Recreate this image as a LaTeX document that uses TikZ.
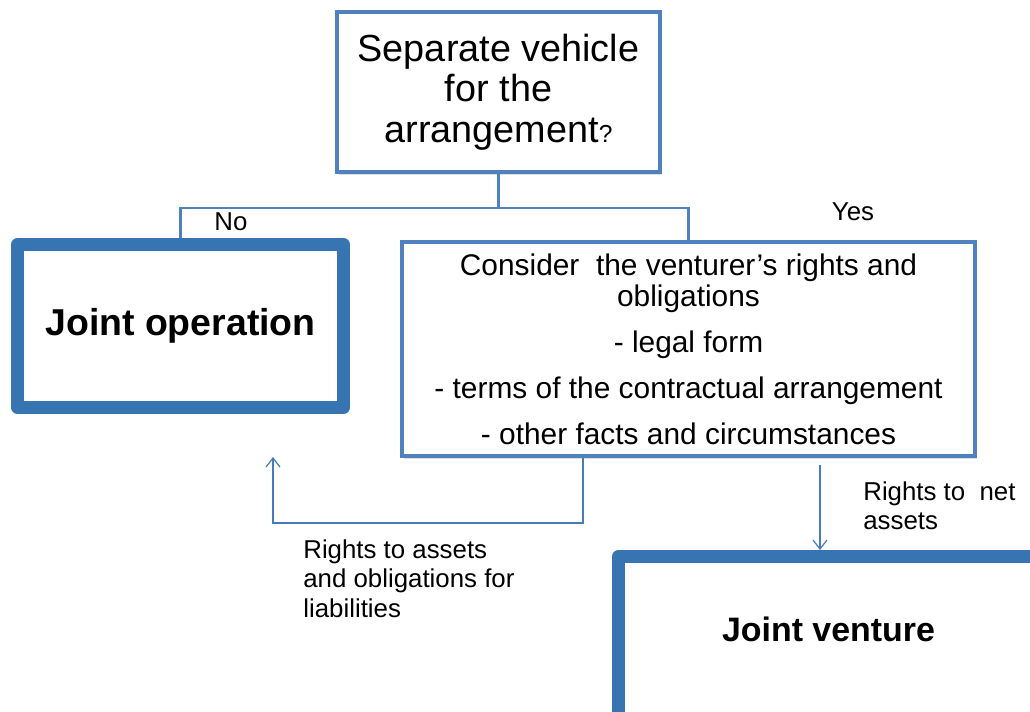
\documentclass[tikz,border=0pt]{standalone}
\usepackage{fontspec}
\setmainfont{Liberation Sans}
\usetikzlibrary{arrows.meta,positioning,shadows,calc}
\definecolor{boxblue}{RGB}{79,129,189}
\definecolor{deepblue}{RGB}{54,117,178}
\definecolor{lineblue}{RGB}{70,125,185}
\tikzset{
  qbox/.style={draw=boxblue,fill=white,line width=2.3pt,align=center,inner sep=0pt,
    drop shadow={opacity=0.25,shadow xshift=1pt,shadow yshift=-1.5pt}},
  endbox/.style={draw=deepblue,fill=white,line width=7.4pt,line join=round,align=center,
    inner sep=0pt,font=\bfseries,
    drop shadow={opacity=0.25,shadow xshift=1pt,shadow yshift=-1.5pt}},
  link/.style={draw=boxblue,line width=1.2pt},
  flow/.style={-{Straight Barb[length=1.8mm,width=2.8mm]},draw=lineblue,line width=0.7pt},
  lbl/.style={font=\fontsize{14.7}{17}\selectfont,align=left,inner sep=0pt},
}

\begin{document}
\begin{tikzpicture}
    \useasboundingbox (0,0) rectangle (20.6,-14.22);
    % question
    \node[qbox,minimum width=6.46cm,minimum height=3.2cm,font=\fontsize{21.5}{23.2}\selectfont]
      (sep) at (9.97,-1.84) {Separate vehicle\\for the\\arrangement{\fontsize{14}{14}\selectfont ?}};

    % outcomes
    \node[endbox,minimum width=6.52cm,minimum height=3.26cm,font=\fontsize{21.3}{25}\selectfont\bfseries]
      (jop) at (3.61,-6.52) {Joint operation};
    \node[qbox,minimum width=11.46cm,minimum height=4.28cm,font=\fontsize{17}{18}\selectfont]
      (cons) at (13.77,-6.98) {Consider\ \ the venturer’s rights and\\obligations\\[8pt]
      - legal form\\[8pt] - terms of the contractual arrangement\\[8pt] - other facts and circumstances};
    \node[endbox,minimum width=8.4cm,minimum height=3.54cm,text height=0.22cm,text depth=0.38cm,
      font=\fontsize{19.3}{23}\selectfont\bfseries] (jv) at (16.57,-12.9) {Joint venture};

    % fork below the question
    \coordinate (fork) at (9.97,-4.16);
    \draw[link] (sep.south) -- (fork);
    \draw[link] (jop.north) |- (fork) -| (cons.north);
    \node[lbl] (no) at (4.62,-4.44) {No};
    \node[lbl] (yes) at (17.06,-4.24) {Yes};

    % back to joint operation
    \coordinate (jopret) at (5.46,-9.14);
    \draw[flow] ([xshift=-2.11cm]cons.south) -- ++(0,-1.3) -| (jopret);
    \node[lbl,anchor=north west] (assets) at (6.06,-10.78)
      {Rights to assets\\and obligations for\\liabilities};

    % on to joint venture
    \coordinate (jvin) at ([xshift=-0.17cm]jv.north);
    \draw[flow] ($(cons.south -| jvin)+(0,-0.14)$) -- (jvin);
    \node[lbl,anchor=north west] (net) at (17.26,-9.62) {Rights to\ \ net\\assets};
  \end{tikzpicture}
\end{document}
